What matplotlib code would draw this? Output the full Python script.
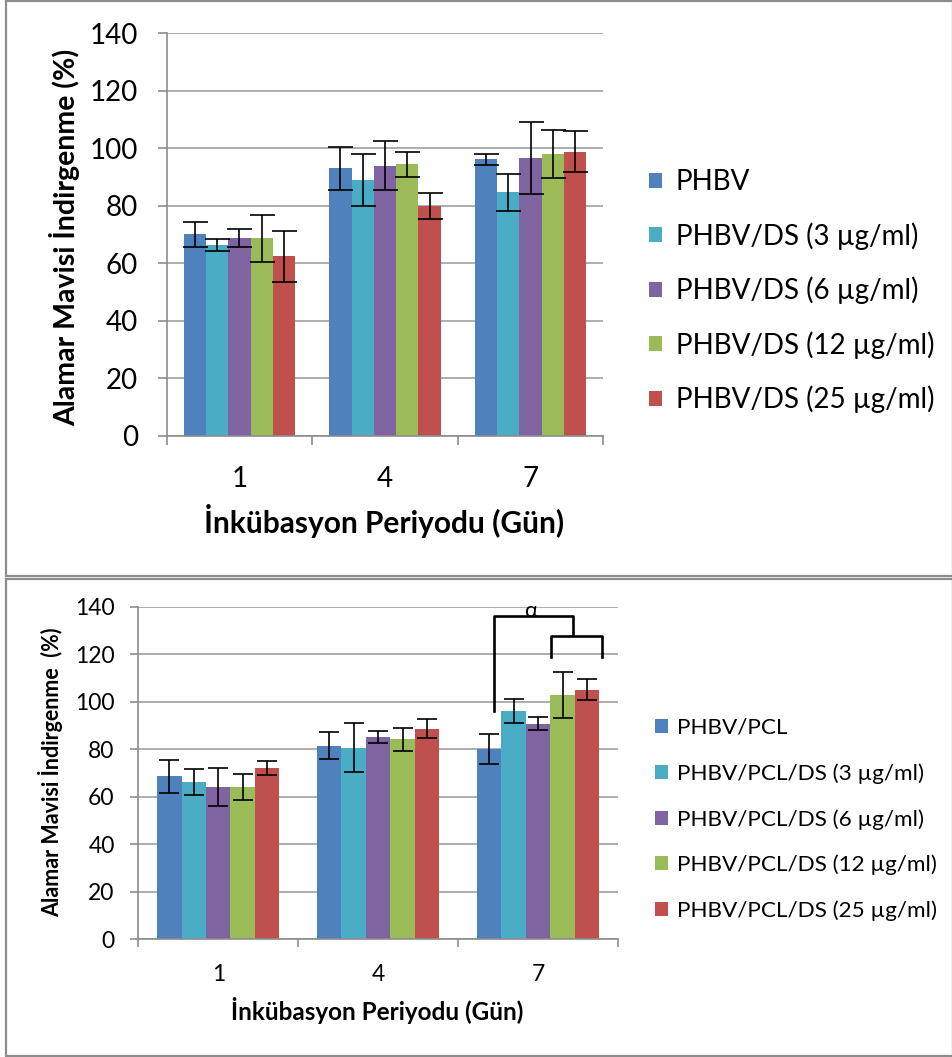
import matplotlib.pyplot as plt
from matplotlib.patches import Rectangle
import numpy as np

plt.rcParams['font.family'] = ['Lato', 'DejaVu Sans']

days = ['1', '4', '7']
colors = ['#4F81BD', '#4BACC6', '#8064A2', '#9BBB59', '#C0504D']

# ust grafik: PHBV
top_labels = ['PHBV', 'PHBV/DS (3 µg/ml)', 'PHBV/DS (6 µg/ml)',
              'PHBV/DS (12 µg/ml)', 'PHBV/DS (25 µg/ml)']
top_phbv = [70.0, 93.0, 96.1]
top_ds3 = [66.3, 89.0, 84.7]
top_ds6 = [68.7, 93.9, 96.6]
top_ds12 = [68.7, 94.4, 98.0]
top_ds25 = [62.4, 80.0, 98.8]
top_phbv_err = [4.4, 7.4, 2.0]
top_ds3_err = [2.2, 9.1, 6.4]
top_ds6_err = [3.1, 8.6, 12.5]
top_ds12_err = [8.2, 4.3, 8.3]
top_ds25_err = [8.9, 4.5, 7.2]

# alt grafik: PHBV/PCL
bot_labels = ['PHBV/PCL', 'PHBV/PCL/DS (3 µg/ml)', 'PHBV/PCL/DS (6 µg/ml)',
              'PHBV/PCL/DS (12 µg/ml)', 'PHBV/PCL/DS (25 µg/ml)']
bot_pcl = [68.5, 81.5, 79.9]
bot_ds3 = [66.0, 80.5, 96.1]
bot_ds6 = [64.0, 85.1, 90.7]
bot_ds12 = [64.0, 84.1, 102.8]
bot_ds25 = [72.0, 88.6, 105.1]
bot_pcl_err = [6.9, 5.6, 6.3]
bot_ds3_err = [5.5, 10.3, 5.2]
bot_ds6_err = [8.0, 2.7, 2.7]
bot_ds12_err = [5.4, 4.8, 9.8]
bot_ds25_err = [3.0, 4.0, 4.4]

W, H = 953, 1057
fig = plt.figure(figsize=(W / 100, H / 100), dpi=100)

def px(x0, y0, x1, y1):
    # piksel kutusu -> figur orani
    return [x0 / W, 1 - y1 / H, (x1 - x0) / W, (y1 - y0) / H]

def draw_panel(ax, series, errs, labels, fs, capsize, tick_len, xpad, ypad):
    x = np.arange(len(days))
    w = 0.153
    for i, (vals, err) in enumerate(zip(series, errs)):
        ax.bar(x + (i - 2) * w, vals, w, color=colors[i], label=labels[i],
               zorder=2, yerr=err, capsize=capsize,
               error_kw=dict(elinewidth=1.2, capthick=1.2, ecolor='black'))
    ax.set_xlim(-0.5, 2.5)
    ax.set_ylim(0, 140)
    ax.set_yticks(range(0, 141, 20))
    ax.grid(axis='y', color='#A0A0A0', lw=1.2, zorder=0)
    ax.set_axisbelow(True)
    for s in ['top', 'right']:
        ax.spines[s].set_visible(False)
    for s in ['left', 'bottom']:
        ax.spines[s].set_color('#8C8C8C')
        ax.spines[s].set_linewidth(1.2)
    ax.set_xticks(x)
    ax.set_xticklabels(days)
    ax.set_xticks([-0.5, 0.5, 1.5, 2.5], minor=True)
    ax.tick_params(axis='x', which='major', length=0, pad=xpad, labelsize=fs)
    ax.tick_params(axis='x', which='minor', length=tick_len, color='#8C8C8C', width=1.2)
    ax.tick_params(axis='y', length=tick_len, color='#8C8C8C', width=1.2,
                   pad=ypad, labelsize=fs)

# ust panel
ax1 = fig.add_axes(px(166.7, 33.2, 603.3, 435.7))
draw_panel(ax1, [top_phbv, top_ds3, top_ds6, top_ds12, top_ds25],
           [top_phbv_err, top_ds3_err, top_ds6_err, top_ds12_err, top_ds25_err],
           top_labels, 20, 9, 6.5, 22, 14)
fig.text(65 / W, 1 - 237 / H, 'Alamar Mavisi İndirgenme (%)', rotation=90,
         ha='center', va='center', fontsize=20.5, fontweight='bold')
fig.text(384 / W, 1 - 521 / H, 'İnkübasyon Periyodu (Gün)',
         ha='center', va='center', fontsize=21.5, fontweight='bold')
ax1.legend(loc='upper left', bbox_to_anchor=(638 / W, 1 - 158 / H),
           bbox_transform=fig.transFigure, frameon=False, fontsize=20,
           handlelength=0.45, handleheight=0.45, handletextpad=0.5,
           labelspacing=0.97, borderaxespad=0)

# alt panel
ax2 = fig.add_axes(px(138.3, 606.7, 618.0, 939.0))
draw_panel(ax2, [bot_pcl, bot_ds3, bot_ds6, bot_ds12, bot_ds25],
           [bot_pcl_err, bot_ds3_err, bot_ds6_err, bot_ds12_err, bot_ds25_err],
           bot_labels, 16.5, 7, 6, 18, 11)
fig.text(51 / W, 1 - 772 / H, 'Alamar Mavisi İndirgenme  (%)', rotation=90,
         ha='center', va='center', fontsize=15.5, fontweight='bold')
fig.text(377 / W, 1 - 1011 / H, 'İnkübasyon Periyodu (Gün)',
         ha='center', va='center', fontsize=17.5, fontweight='bold')
ax2.legend(loc='upper left', bbox_to_anchor=(646 / W, 1 - 709 / H),
           bbox_transform=fig.transFigure, frameon=False, fontsize=16.2,
           handlelength=0.58, handleheight=0.58, handletextpad=0.4,
           labelspacing=1.12, borderaxespad=0)

# anlamlilik parantezleri (7. gun)
kw = dict(color='black', lw=1.9, clip_on=False, zorder=4)
ax2.plot([1.725, 1.725, 2.219, 2.219], [96.1, 136.1, 136.1, 128.3], **kw)
ax2.plot([2.081, 2.081, 2.4, 2.4], [118.9, 127.7, 127.7, 118.9], **kw)
ax2.text(1.952, 138.3, 'α', ha='center', va='center', fontsize=16, clip_on=False)

# panel cerceveleri
for y0, y1 in [(1, 576), (579, 1056)]:
    fig.add_artist(Rectangle((6 / W, 1 - y1 / H), (W - 6) / W, (y1 - y0) / H,
                             transform=fig.transFigure, fill=False,
                             edgecolor='#8C8C8C', lw=1.6))

plt.savefig('out.png', dpi=100)
